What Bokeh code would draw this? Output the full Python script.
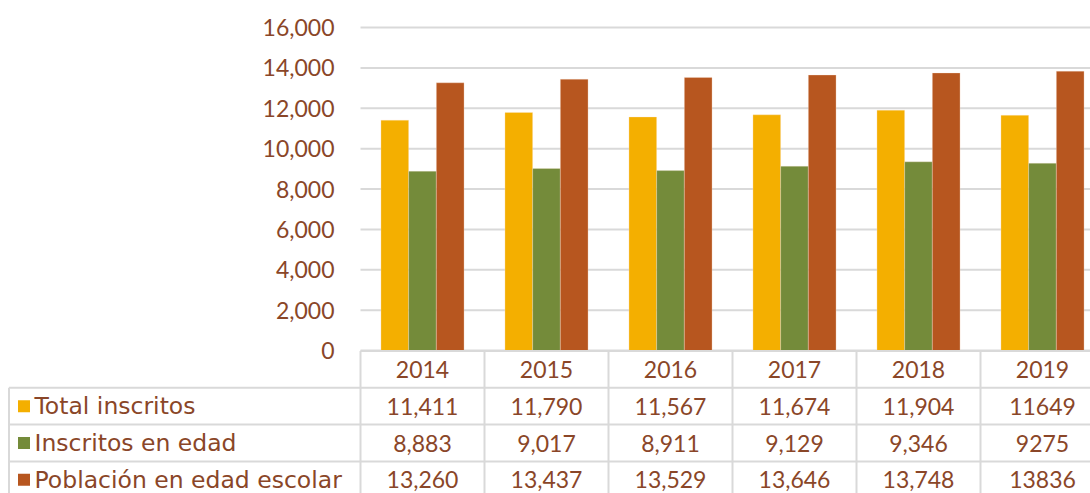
from bokeh.plotting import figure
from bokeh.models import (ColumnDataSource, Range1d, FixedTicker, NumeralTickFormatter,
                          LinearAxis)
from bokeh.transform import dodge
from bokeh.core.properties import value
from bokeh.embed import file_html
from bokeh.resources import INLINE

# ---- data ----
years = ["2014", "2015", "2016", "2017", "2018", "2019"]
series_names = ["Total inscritos", "Inscritos en edad", "Población en edad escolar"]
total_inscritos = [11411, 11790, 11567, 11674, 11904, 11649]
inscritos_edad = [8883, 9017, 8911, 9129, 9346, 9275]
poblacion_escolar = [13260, 13437, 13529, 13646, 13748, 13836]
total_labels = ["11,411", "11,790", "11,567", "11,674", "11,904", "11649"]
edad_labels = ["8,883", "9,017", "8,911", "9,129", "9,346", "9275"]
poblacion_labels = ["13,260", "13,437", "13,529", "13,646", "13,748", "13836"]
y_ticks = [0, 2000, 4000, 6000, 8000, 10000, 12000, 14000, 16000]

# ---- style / layout constants ----
COLORS = ["#F4AF00", "#748B3A", "#B7561F"]
TEXT = "#8A4628"
GRID = "#D9D9D9"
NUM_FONT = "Lato"
NUM_FS = "23px"
LEG_FONT = "DejaVu Sans"
LEG_FS = "23.5px"
W, H = 1090, 493
COL_PX = 124.0          # width of one category column
PLOT_LEFT = 360         # px from figure left to first category column
Y_TOP_PX = 27           # px of 16,000 line
Y_ZERO_PX = 350         # px of 0 line
TBL_TOP_PX = 350.5      # top border of table header
ROW_PX = 36.8           # table row height
BAR_W = 0.2234

n = len(years)
xs = list(range(n))
x_start = -0.5 - PLOT_LEFT / COL_PX
x_end = x_start + W / COL_PX
k = 16000 / (Y_ZERO_PX - Y_TOP_PX)
y_top = 16000 + Y_TOP_PX * k
y_bot = -(H - Y_ZERO_PX) * k

p = figure(width=W, height=H, x_range=Range1d(x_start, x_end), y_range=Range1d(y_bot, y_top),
           output_backend="svg", toolbar_location=None, min_border=0,
           outline_line_color=None, x_axis_location=None, y_axis_location=None)
for g in p.grid:
    g.visible = False
p.extra_y_ranges = {"tbl": Range1d(start=(H - TBL_TOP_PX) / ROW_PX, end=-TBL_TOP_PX / ROW_PX)}

right_edge = n - 0.5
# horizontal grid lines at the tick values, plot area only
p.segment(x0=[-0.5] * len(y_ticks), x1=[right_edge] * len(y_ticks), y0=y_ticks, y1=y_ticks,
          line_color=GRID, line_width=2)

src = ColumnDataSource(dict(x=xs, total=total_inscritos, edad=inscritos_edad, pob=poblacion_escolar))
for off, key, c in zip([-BAR_W, 0, BAR_W], ["total", "edad", "pob"], COLORS):
    p.vbar(x=dodge("x", off), top=key, bottom=0, width=BAR_W, source=src, fill_color=c,
           line_color="#FBE9D8", line_width=0.5, line_alpha=0.6)

yax = LinearAxis(fixed_location=-0.5, bounds=(0, 16000), ticker=FixedTicker(ticks=y_ticks),
                 formatter=NumeralTickFormatter(format="0,0"))
yax.axis_line_color = None
yax.major_tick_line_color = None
yax.minor_tick_line_color = None
yax.major_label_standoff = 20
yax.major_label_text_font = NUM_FONT
yax.major_label_text_font_size = NUM_FS
yax.major_label_text_color = TEXT
p.add_layout(yax, "left")

# ---- data table ----
left_edge = x_start + 8.5 / COL_PX
# header top border (plot area only)
p.segment(x0=[-0.5], x1=[right_edge], y0=[0], y1=[0], line_color=GRID, line_width=2, y_range_name="tbl")
# row borders (full width)
hy = [1, 2, 3, 4]
p.segment(x0=[left_edge] * len(hy), x1=[right_edge] * len(hy), y0=hy, y1=hy,
          line_color=GRID, line_width=2, y_range_name="tbl")
# column borders
vx = [i - 0.5 for i in range(n + 1)]
p.segment(x0=vx, x1=vx, y0=[0] * len(vx), y1=[4] * len(vx), line_color=GRID, line_width=2, y_range_name="tbl")
p.segment(x0=[left_edge], x1=[left_edge], y0=[1], y1=[4], line_color=GRID, line_width=2, y_range_name="tbl")

# header years
p.text(x=xs, y=[0.5] * n, text=years, text_align="center", text_baseline="middle",
       text_font=value(NUM_FONT), text_font_size=NUM_FS, text_color=TEXT, y_range_name="tbl")

label_lists = [total_labels, edad_labels, poblacion_labels]
for r, (labels, c, name) in enumerate(zip(label_lists, COLORS, series_names)):
    yc = r + 1.5
    p.text(x=xs, y=[yc] * n, text=labels, text_align="center", text_baseline="middle",
           text_font=value(NUM_FONT), text_font_size=NUM_FS, text_color=TEXT, y_range_name="tbl")
    p.scatter(x=[x_start + 23.5 / COL_PX], y=[yc], marker="square", size=12,
              fill_color=c, line_color=None, y_range_name="tbl")
    p.text(x=[x_start + 34 / COL_PX], y=[yc], text=[name], text_align="left",
           text_baseline="middle", text_font=value(LEG_FONT), text_font_size=LEG_FS,
           text_color=TEXT, y_range_name="tbl")

open("out.html", "w").write(file_html(p, INLINE))
